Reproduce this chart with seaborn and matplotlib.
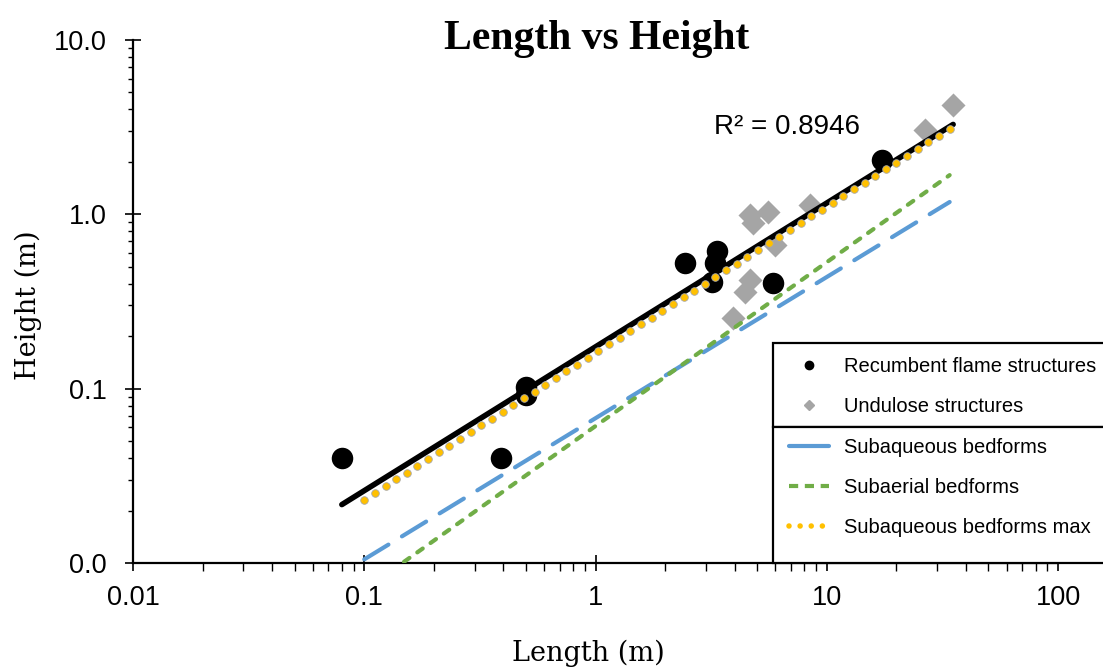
import numpy as np
import matplotlib
matplotlib.use("Agg")
import matplotlib.pyplot as plt
from matplotlib.lines import Line2D
from matplotlib.patches import Rectangle
from matplotlib.ticker import LogLocator, FuncFormatter, NullFormatter
import seaborn as sns

# Recumbent flame structures: length and height (m)
flame_length = [0.08, 0.39, 0.50, 0.50, 2.44, 3.35, 3.29, 3.19, 5.86, 17.3]
flame_height = [0.040, 0.040, 0.102, 0.092, 0.525, 0.62, 0.525, 0.41, 0.405, 2.05]

# Undulose structures: length and height (m)
undulose_length = [3.93, 4.43, 4.66, 4.66, 4.80, 5.57, 5.97, 8.47, 26.6, 35.2]
undulose_height = [0.254, 0.36, 0.42, 0.99, 0.89, 1.03, 0.666, 1.13, 3.04, 4.24]

# Empirical bedform relations H = a * L^b
subaqueous_coef, subaqueous_exp = 0.0677, 0.8098
subaqueous_max_coef, subaqueous_max_exp = 0.16, 0.84
subaerial_coef, subaerial_exp = 0.061, 0.94
bedform_length_range = (0.1, 34.0)
max_dot_count = 56

r2_label = "R\u00b2 = 0.8946"

x_ticks = [0.01, 0.1, 1, 10, 100]
y_ticks = [0.01, 0.1, 1, 10]

sns.set_style("white")
plt.rcParams["font.family"] = ["Liberation Sans", "DejaVu Sans"]
plt.rcParams["text.color"] = "black"
plt.rcParams["axes.labelcolor"] = "black"
plt.rcParams["xtick.color"] = "black"
plt.rcParams["ytick.color"] = "black"

W, H = 1103, 668
fig = plt.figure(figsize=(W / 100, H / 100), dpi=100)
ax = fig.add_axes([133 / W, 1 - 563 / H, 925 / W, 523 / H])

gray = "#A5A5A5"
blue = "#5B9BD5"
green = "#70AD47"
yellow = "#FFC000"

sns.scatterplot(x=undulose_length, y=undulose_height, ax=ax, marker="D",
                color=gray, s=150, linewidth=0, zorder=2)
sns.scatterplot(x=flame_length, y=flame_height, ax=ax, marker="o",
                color="black", s=240, linewidth=0, zorder=3)

# Power-law trendline through all structures (fit in log space)
all_len = np.array(flame_length + undulose_length)
all_ht = np.array(flame_height + undulose_height)
slope, intercept = np.polyfit(np.log10(all_len), np.log10(all_ht), 1)
trend_x = np.geomspace(all_len.min(), all_len.max(), 100)
trend_y = 10 ** intercept * trend_x ** slope
sns.lineplot(x=trend_x, y=trend_y, ax=ax, color="black", linewidth=4.0,
             solid_capstyle="round", zorder=4)

bed_x = np.geomspace(*bedform_length_range, 200)
sub_y = subaqueous_coef * bed_x ** subaqueous_exp
subair_y = subaerial_coef * bed_x ** subaerial_exp

sns.lineplot(x=bed_x, y=sub_y, ax=ax, color=blue, linewidth=3.0,
             linestyle=(0, (6.8, 3.8)), dash_capstyle="round", zorder=5)
sns.lineplot(x=bed_x, y=subair_y, ax=ax, color=green, linewidth=3.0,
             linestyle=(0, (1.6, 2.3)), dash_capstyle="round", zorder=5)

# Maximum subaqueous relation as round dots, evenly spaced along the log axis
dot_x = np.geomspace(*bedform_length_range, max_dot_count)
dot_y = subaqueous_max_coef * dot_x ** subaqueous_max_exp
sns.scatterplot(x=dot_x, y=dot_y, ax=ax, marker="o", color=yellow, s=30,
                edgecolor="#A8A8A8", linewidth=0.6, zorder=7)

ax.set_xscale("log")
ax.set_yscale("log")
ax.set_xlim(0.01, 100)
ax.set_ylim(0.01, 10)

ax.xaxis.set_minor_locator(LogLocator(base=10, subs=np.arange(2, 10), numticks=30))
ax.yaxis.set_minor_locator(LogLocator(base=10, subs=np.arange(2, 10), numticks=30))
ax.set_xticks(x_ticks)
ax.set_yticks(y_ticks)
ax.xaxis.set_major_formatter(FuncFormatter(lambda v, p: f"{v:g}"))
ax.yaxis.set_major_formatter(FuncFormatter(lambda v, p: f"{v:.1f}"))
ax.xaxis.set_minor_formatter(NullFormatter())
ax.yaxis.set_minor_formatter(NullFormatter())

ax.tick_params(axis="both", which="major", direction="inout", length=12,
               width=1.2, color="black", labelsize=19.5, labelcolor="black",
               bottom=True, left=True, top=False, right=False)
ax.tick_params(axis="x", which="major", pad=10)
ax.tick_params(axis="y", which="major", pad=13)
ax.tick_params(axis="x", which="minor", direction="out", length=5.5,
               width=1.0, color="black", bottom=True, top=False)
ax.tick_params(axis="y", which="minor", direction="out", length=3.8,
               width=1.0, color="black", left=True, right=False)

for side in ("top", "right"):
    ax.spines[side].set_visible(False)
for side in ("left", "bottom"):
    ax.spines[side].set_color("black")
    ax.spines[side].set_linewidth(1.6)
ax.set_xlabel("")
ax.set_ylabel("")

ax.text(6.7, 3.15, r2_label, fontsize=20, ha="center", va="center",
        color="black", zorder=8)

fig.text(597 / W, 1 - 49 / H, "Length vs Height", ha="center",
         va="baseline", fontsize=30, fontweight="bold", color="black",
         family=["Liberation Serif", "DejaVu Serif"])
fig.text(588 / W, 1 - 661 / H, "Length (m)", ha="center",
         va="baseline", fontsize=19.5, color="black", family=["DejaVu Serif"])
fig.text(28 / W, 1 - 305 / H, "Height (m)", ha="center", va="center",
         rotation=90, fontsize=19.5, color="black", family=["DejaVu Serif"])

# Legend panels: two stacked boxes, structures above bedform relations
legend_left = 773 / W
box_tops = (343, 427)
box_bottoms = (427, 563)
for top_px, bot_px in zip(box_tops, box_bottoms):
    fig.add_artist(Rectangle((legend_left, 1 - bot_px / H), 0.35,
                             (bot_px - top_px) / H, transform=fig.transFigure,
                             facecolor="white", edgecolor="black",
                             linewidth=1.6, zorder=2))

legend_kw = dict(loc="upper left", frameon=False, handlelength=2.0,
                 handletextpad=0.75, borderaxespad=0, labelspacing=1.05,
                 borderpad=0.6,
                 prop={"family": "Liberation Sans", "size": 14.5})

struct_handles = [
    Line2D([], [], marker="o", color="black", linestyle="none", markersize=6),
    Line2D([], [], marker="D", color=gray, linestyle="none", markersize=5),
]
leg1 = fig.legend(struct_handles, ["Recumbent flame structures", "Undulose structures"],
                  bbox_to_anchor=(legend_left + 4 / W, 1 - 345 / H), **legend_kw)

bed_handles = [
    Line2D([], [], color=blue, linewidth=3.0, solid_capstyle="round"),
    Line2D([], [], color=green, linewidth=3.0, linestyle=(0, (2.2, 1.6))),
    Line2D([], [], color=yellow, linewidth=4.0, linestyle=(0, (0.001, 2.0)),
           dash_capstyle="round"),
]
leg2 = fig.legend(bed_handles, ["Subaqueous bedforms", "Subaerial bedforms",
                                "Subaqueous bedforms max"],
                  bbox_to_anchor=(legend_left + 4 / W, 1 - 426 / H), **legend_kw)
for leg in (leg1, leg2):
    leg.set_zorder(3)

fig.savefig("out.png", dpi=100)
